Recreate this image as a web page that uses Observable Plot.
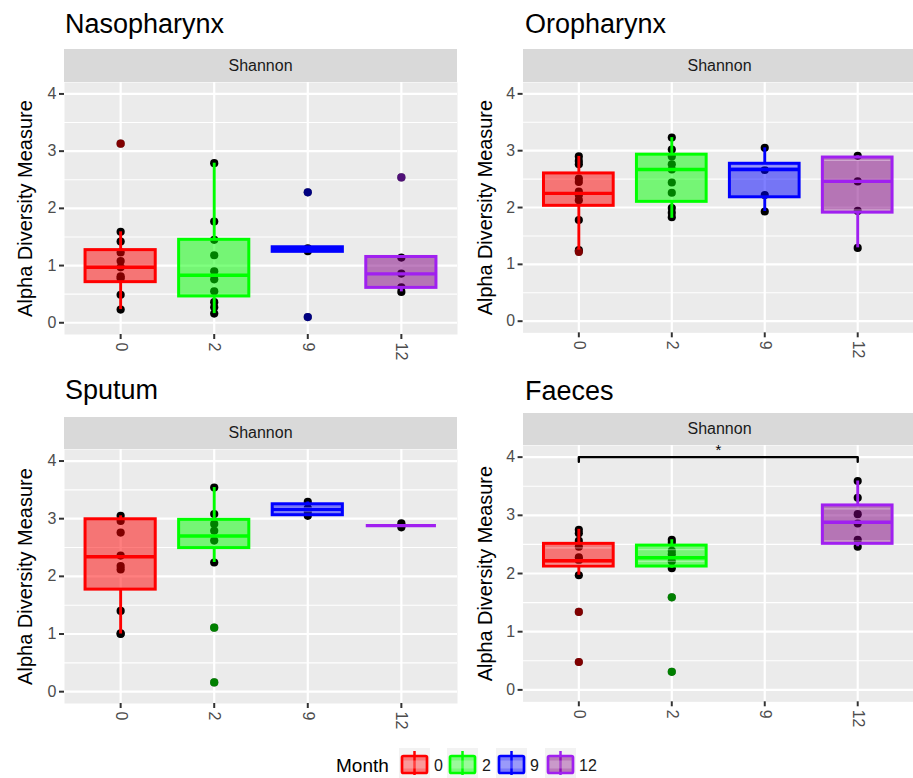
<!DOCTYPE html>
<html><head><meta charset="utf-8">
<script src="https://cdn.jsdelivr.net/npm/d3@7"></script>
<script src="https://cdn.jsdelivr.net/npm/@observablehq/plot@0.6"></script>
<style>
body{margin:0;background:#fff;font-family:"Liberation Sans",Arial,sans-serif;}
#root{position:relative;width:913px;height:778px;overflow:hidden;background:#fff;}
.title{position:absolute;font-size:27px;line-height:27px;color:#000;white-space:nowrap;}
.strip{position:absolute;background:#D9D9D9;color:#1A1A1A;font-size:16px;display:flex;align-items:center;justify-content:center;}
.panel{position:absolute;}
.panel svg{overflow:visible;}
</style></head><body><div id="root"></div>
<script>
// ---------- data ----------
const months = ["0", "2", "9", "12"];
const lineColors = ["#FF0000", "#00FF00", "#0000FF", "#A020F0"];
const fillColors = ["#FF0000", "#00FF00", "#0000FF", "#800080"];
const panelTitles = ["Nasopharynx", "Oropharynx", "Sputum", "Faeces"];
const stripLabel = "Shannon";
const yLabel = "Alpha Diversity Measure";
const legendTitle = "Month";
const yTicks = [0, 1, 2, 3, 4];
const yMinor = [0.5, 1.5, 2.5, 3.5];

// sample points per month
const nasoPoints = [
  [3.13, 1.59, 1.42, 1.23, 1.08, 0.97, 0.81, 0.78, 0.49, 0.23],
  [2.79, 1.77, 1.45, 1.18, 0.90, 0.76, 0.55, 0.36, 0.27, 0.16],
  [2.28, 1.30, 1.25, 0.10],
  [2.54, 1.14, 0.86, 0.62, 0.54]
];
const oroPoints = [
  [2.90, 2.82, 2.76, 2.51, 2.45, 2.28, 2.22, 2.13, 1.78, 1.25, 1.22],
  [3.23, 3.02, 2.90, 2.76, 2.67, 2.44, 2.26, 1.99, 1.91, 1.83],
  [3.05, 2.66, 2.22, 1.93],
  [2.91, 2.46, 1.94, 1.29]
];
const sputumPoints = [
  [3.05, 2.96, 2.76, 2.36, 2.18, 2.12, 1.40, 1.01, 1.00],
  [3.54, 3.08, 2.91, 2.79, 2.62, 2.24, 1.11, 0.16],
  [3.29, 3.18, 3.12, 3.05],
  [2.92, 2.85]
];
const faecesPoints = [
  [2.75, 2.69, 2.56, 2.46, 2.28, 2.23, 1.97, 1.34, 0.48],
  [2.58, 2.53, 2.39, 2.33, 2.21, 2.09, 1.59, 0.31],
  [],
  [3.59, 3.30, 3.02, 2.86, 2.58, 2.46]
];

// box statistics per month: [lower whisker, Q1, median, Q3, upper whisker]
const nasoBox = [
  [0.23, 0.71, 0.97, 1.27, 1.59],
  [0.16, 0.46, 0.83, 1.45, 2.79],
  [1.24, 1.24, 1.28, 1.32, 1.32],
  [0.54, 0.61, 0.855, 1.15, 1.15]
];
const oroBox = [
  [1.25, 2.03, 2.25, 2.60, 2.90],
  [1.81, 2.10, 2.67, 2.93, 3.23],
  [1.93, 2.18, 2.67, 2.77, 3.05],
  [1.29, 1.91, 2.46, 2.88, 2.91]
];
const sputumBox = [
  [1.00, 1.77, 2.34, 2.99, 3.05],
  [2.24, 2.49, 2.70, 2.98, 3.54],
  [3.05, 3.06, 3.16, 3.25, 3.29],
  [2.88, 2.88, 2.88, 2.88, 2.88]
];
const faecesBox = [
  [1.97, 2.12, 2.22, 2.51, 2.76],
  [2.09, 2.12, 2.27, 2.48, 2.58],
  null,
  [2.46, 2.51, 2.88, 3.17, 3.59]
];

// faint inner lines visible inside some boxes (overlapping layer)
const nasoInner = [[], [], [], []];
const oroInner = [[], [], [2.73], [2.83, 1.96]];
const sputumInner = [[], [], [3.19, 3.125], []];
const faecesInner = [[2.44, 2.16], [2.41, 2.21], [], [3.11, 2.56]];

// outliers per month
const nasoOutliers = [[3.13], [], [2.28, 0.10], [2.54]];
const oroOutliers = [[1.22], [], [], []];
const sputumOutliers = [[], [1.11, 0.16], [], []];
const faecesOutliers = [[1.34, 0.48], [1.59, 0.31], [], []];

// significance bracket (Faeces)
const sigFrom = "0";
const sigTo = "12";
const sigY = 4.0;
const sigLabel = "*";

// ---------- drawing ----------
const root = document.getElementById("root");
const FONT = '"Liberation Sans", Arial, sans-serif';
const yDomain = [-0.205, 4.2];

const layouts = [
  {title: [65, 10.5], strip: [64, 49, 393, 33], svg: [0, 82], w: 457, ml: 64, ph: 252, ytx: -39},
  {title: [525, 10.5], strip: [523, 49, 393, 33], svg: [455, 82], w: 461, ml: 68, ph: 252, ytx: -38},
  {title: [65, 377], strip: [64, 417, 393, 32], svg: [0, 449], w: 457, ml: 64, ph: 254, ytx: -39},
  {title: [525, 377.5], strip: [523, 413, 393, 32], svg: [455, 445], w: 461, ml: 68, ph: 258, ytx: -38}
];
const datasets = [
  [nasoPoints, nasoBox, nasoOutliers, nasoInner, null],
  [oroPoints, oroBox, oroOutliers, oroInner, null],
  [sputumPoints, sputumBox, sputumOutliers, sputumInner, null],
  [faecesPoints, faecesBox, faecesOutliers, faecesInner, {from: sigFrom, to: sigTo, y: sigY, label: sigLabel}]
];

function drawPanel(k) {
  const L = layouts[k];
  const [pts, box, outs, inner, sig] = datasets[k];
  const t = document.createElement("div");
  t.className = "title"; t.style.left = L.title[0] + "px"; t.style.top = L.title[1] + "px";
  t.textContent = panelTitles[k];
  root.appendChild(t);
  const s = document.createElement("div");
  s.className = "strip";
  s.style.left = L.strip[0] + "px"; s.style.top = L.strip[1] + "px";
  s.style.width = L.strip[2] + "px"; s.style.height = L.strip[3] + "px";
  s.textContent = stripLabel;
  root.appendChild(s);

  const P = [], B = [], O = [], I = [];
  months.forEach((m, i) => {
    pts[i].forEach(v => P.push({x: i + 1, y: v}));
    if (box[i]) {
      const [lo, q1, med, q3, hi] = box[i];
      B.push({x: i + 1, lo, q1, med, q3, hi, c: lineColors[i], f: fillColors[i]});
    }
    outs[i].forEach(v => O.push({x: i + 1, y: v, c: lineColors[i]}));
    inner[i].forEach(v => I.push({x: i + 1, y: v}));
  });
  const hw = 0.375;
  const marks = [
    Plot.frame({fill: "#EBEBEB", stroke: "none"}),
    Plot.gridY(yMinor, {stroke: "white", strokeOpacity: 1, strokeWidth: 1.1}),
    Plot.gridY(yTicks, {stroke: "white", strokeOpacity: 1, strokeWidth: 2.2}),
    Plot.gridX([1, 2, 3, 4], {stroke: "white", strokeOpacity: 1, strokeWidth: 2.2}),
    Plot.axisY(yTicks, {tickSize: 5, tickPadding: 3, fontSize: 16, fill: "#4D4D4D", stroke: "#333333", strokeWidth: 2, tickFormat: d => String(d), label: null}),
    Plot.axisX([1, 2, 3, 4], {tickSize: 5, tickPadding: 3, fontSize: 16, fill: "#4D4D4D", stroke: "#333333", strokeWidth: 2, tickRotate: 90, tickFormat: d => months[d - 1], label: null}),
    Plot.text([yLabel], {frameAnchor: "left", textAnchor: "middle", lineAnchor: "middle", rotate: -90, dx: L.ytx, fontSize: 20, fill: "#000", text: d => d}),
    Plot.dot(P, {x: "x", y: "y", r: 4.1, fill: "black", stroke: "none"}),
    Plot.dot(O, {x: "x", y: "y", r: 4.1, fill: "c", fillOpacity: 0.5, stroke: "none"}),
    Plot.ruleX(B, {x: "x", y1: "q3", y2: "hi", stroke: "c", strokeWidth: 2.9}),
    Plot.ruleX(B, {x: "x", y1: "lo", y2: "q1", stroke: "c", strokeWidth: 2.9}),
    Plot.rect(B, {x1: d => d.x - hw, x2: d => d.x + hw, y1: "q1", y2: "q3", fill: "f", fillOpacity: 0.5, stroke: "c", strokeWidth: 3}),
    Plot.ruleY(I, {y: "y", x1: d => d.x - hw + 0.02, x2: d => d.x + hw - 0.02, stroke: "white", strokeOpacity: 0.35, strokeWidth: 1.3}),
    Plot.ruleY(B, {y: "med", x1: d => d.x - hw, x2: d => d.x + hw, stroke: "c", strokeWidth: 3.4})
  ];
  if (sig) {
    const a = months.indexOf(sig.from) + 1, b = months.indexOf(sig.to) + 1;
    const br = [{x: a, y: sig.y - 0.08}, {x: a, y: sig.y}, {x: b, y: sig.y}, {x: b, y: sig.y - 0.08}];
    marks.push(Plot.line(br, {x: "x", y: "y", stroke: "black", strokeWidth: 2.4}));
    marks.push(Plot.text([sig], {x: (a + b) / 2, y: "y", text: "label", dy: -7, fontSize: 15, fill: "#000"}));
  }
  const plot = Plot.plot({
    width: L.w, height: L.ph + 34,
    marginLeft: L.ml, marginRight: 0, marginTop: 0, marginBottom: 34,
    style: {background: "transparent", fontFamily: FONT, overflow: "visible"},
    x: {domain: [0.4, 4.6], axis: null},
    y: {domain: yDomain, axis: null},
    color: {type: "identity"},
    marks
  });
  const d = document.createElement("div");
  d.className = "panel"; d.style.left = L.svg[0] + "px"; d.style.top = L.svg[1] + "px";
  d.appendChild(plot);
  root.appendChild(d);
}
[0, 1, 2, 3].forEach(drawPanel);

// legend
const lg = d3.select(root).append("svg")
  .attr("width", 913).attr("height", 30)
  .style("position", "absolute").style("left", "0px").style("top", "748px")
  .style("font-family", FONT);
lg.append("text").attr("x", 336).attr("y", 24).attr("font-size", 19).attr("fill", "#000").text(legendTitle);
const keyX = [401, 449, 498, 547];
const labX = [434, 482, 530, 579];
months.forEach((m, i) => {
  const g = lg.append("g").attr("transform", `translate(${keyX[i]},0)`);
  g.append("rect").attr("x", -2).attr("y", 0).attr("width", 31).attr("height", 30).attr("fill", "#F2F2F2");
  g.append("line").attr("x1", 13.5).attr("x2", 13.5).attr("y1", 3).attr("y2", 27).attr("stroke", lineColors[i]).attr("stroke-width", 2.5);
  g.append("rect").attr("x", 1).attr("y", 8).attr("width", 25).attr("height", 17).attr("rx", 1.5)
    .attr("fill", fillColors[i]).attr("fill-opacity", 0.5).attr("stroke", lineColors[i]).attr("stroke-width", 2.7);
  g.append("rect").attr("x", 2.5).attr("y", 12.5).attr("width", 22).attr("height", 8)
    .attr("fill", "#fff").attr("fill-opacity", 0.25);
  lg.append("text").attr("x", labX[i]).attr("y", 23).attr("font-size", 16).attr("fill", "#1A1A1A").text(m);
});
</script></body></html>
